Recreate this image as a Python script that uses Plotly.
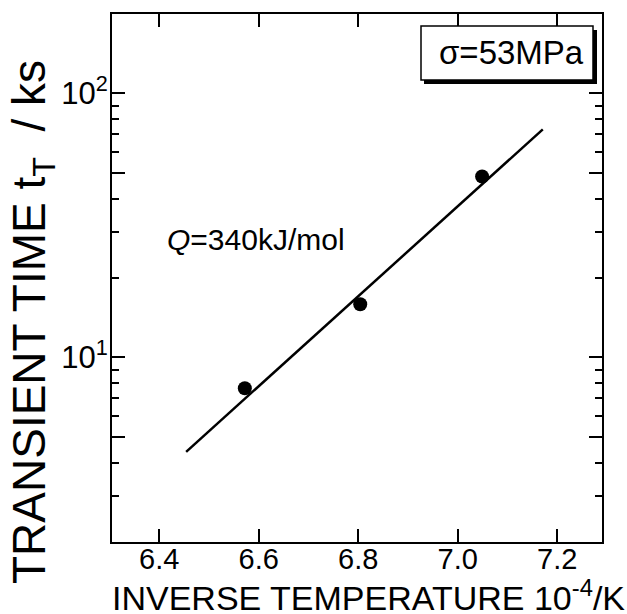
import plotly.graph_objects as go

# Measured transient times vs inverse temperature
inv_temp = [6.572, 6.804, 7.049]          # 10^-4 / K
transient_time = [7.65, 15.9, 48.5]       # ks

# Arrhenius fit line end points (Q = 340 kJ/mol)
fit_x = [6.454, 7.171]
fit_y = [4.39, 73.1]

x_ticks = [6.4, 6.6, 6.8, 7.0, 7.2]
x_ticktext = ["6.4", "6.6", "6.8", "7.0", "7.2"]
y_major = [5, 10, 50, 100]
y_major_text = ["", "10<sup>1</sup>", "", "10<sup>2</sup>"]
y_minor = [3, 4, 6, 7, 8, 9, 20, 30, 40, 60, 70, 80, 90]

FONT = "Liberation Sans, Arial, Helvetica, sans-serif"

fig = go.Figure()
fig.add_trace(go.Scatter(x=fit_x, y=fit_y, mode="lines",
                         line=dict(color="black", width=2.5), showlegend=False))
fig.add_trace(go.Scatter(x=inv_temp, y=transient_time, mode="markers",
                         marker=dict(color="black", size=14), showlegend=False))

L, R, T, B = 112, 25, 14, 72
W, H = 627, 614
pw, ph = W - L - R, H - T - B

def px(x):
    return (x - L) / pw

def py(y):
    return (H - B - y) / ph

fig.update_layout(
    width=W, height=H,
    margin=dict(l=L, r=R, t=T, b=B),
    paper_bgcolor="white", plot_bgcolor="white",
    font=dict(family=FONT, color="black"),
    xaxis=dict(range=[6.305, 7.29], tickvals=x_ticks, ticktext=x_ticktext,
               ticks="inside", ticklen=13, tickwidth=2, tickcolor="black",
               showline=True, linewidth=2, linecolor="black", mirror="allticks",
               showgrid=False, zeroline=False, tickfont=dict(size=29),
               ticklabelstandoff=-10),
    yaxis=dict(type="log", range=[0.301, 2.301], tickvals=y_major, ticktext=y_major_text,
               ticks="inside", ticklen=13, tickwidth=2, tickcolor="black",
               showline=True, linewidth=2, linecolor="black", mirror="allticks",
               showgrid=False, zeroline=False, tickfont=dict(size=31),
               ticklabelstandoff=-4,
               minor=dict(tickvals=y_minor, ticks="inside", ticklen=7,
                          tickwidth=2, tickcolor="black", showgrid=False)),
    shapes=[
        dict(type="rect", xref="paper", yref="paper",
             x0=px(424), x1=px(597), y0=py(84), y1=py(30),
             fillcolor="black", line=dict(width=0)),
        dict(type="rect", xref="paper", yref="paper",
             x0=px(421), x1=px(593), y0=py(80), y1=py(26),
             fillcolor="white", line=dict(color="black", width=1.5)),
    ],
    annotations=[
        dict(text="σ=53MPa", xref="paper", yref="paper", x=px(511), y=py(53),
             showarrow=False, font=dict(size=33), xanchor="center", yanchor="middle"),
        dict(text="<i>Q</i>=340kJ/mol", xref="paper", yref="paper", x=px(165), y=py(239),
             showarrow=False, font=dict(size=30), xanchor="left", yanchor="middle"),
        dict(text="INVERSE TEMPERATURE 10<sup>-4</sup>/K", xref="paper", yref="paper",
             x=px(368), y=py(595), showarrow=False, font=dict(size=34),
             xanchor="center", yanchor="middle"),
        dict(text="TRANSIENT TIME t<sub>T</sub>  / ks", xref="paper", yref="paper",
             x=px(33), y=py(322), showarrow=False, font=dict(size=46), textangle=-90,
             xanchor="center", yanchor="middle"),
    ],
)

fig.write_html("out.html")
